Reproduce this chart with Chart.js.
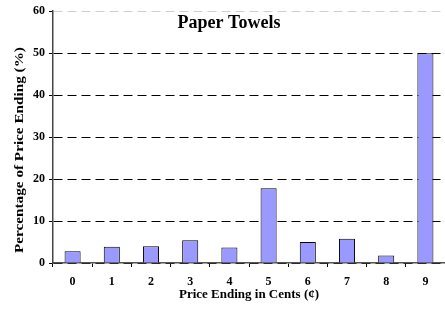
<!DOCTYPE html>
<html>
<head>
<meta charset="utf-8">
<script src="https://cdn.jsdelivr.net/npm/chart.js@4/dist/chart.umd.min.js"></script>
<style>
  html, body { margin: 0; padding: 0; background: #fff; }
  #wrap { width: 445px; height: 310px; }
</style>
</head>
<body>
<div id="wrap"><canvas id="towels" width="445" height="310"></canvas></div>
<script>
// price ending digits and share of prices (%)
var endings = ['0', '1', '2', '3', '4', '5', '6', '7', '8', '9'];
var shares = [2.8, 3.9, 4.0, 5.4, 3.7, 17.8, 5.0, 5.8, 1.8, 50.0];
var chartTitle = 'Paper Towels';
var yTitle = 'Percentage of Price Ending (%)';

var serif = "'Liberation Serif', 'Times New Roman', serif";

// title inside the plot area, and a slightly stretched y title like the original
var extraText = {
    id: 'extraText',
    afterDraw: function (chart) {
        var ctx = chart.ctx;
        ctx.save();
        ctx.fillStyle = '#000';
        ctx.textAlign = 'center';
        ctx.textBaseline = 'middle';
        ctx.font = 'bold 18px ' + serif;
        ctx.fillText(chartTitle, 229, 23);

        ctx.translate(20, 150);
        ctx.rotate(-Math.PI / 2);
        ctx.scale(1.17, 1);
        ctx.font = 'bold 13px ' + serif;
        ctx.fillText(yTitle, 0, 0);
        ctx.restore();
    }
};

var canvas = document.getElementById('towels');
var myChart = new Chart(canvas, {
    type: 'bar',
    data: {
        labels: endings,
        datasets: [{
            label: chartTitle,
            data: shares,
            backgroundColor: '#9999FF',
            borderColor: '#000',
            borderWidth: 1,
            categoryPercentage: 1,
            barPercentage: 0.41
        }]
    },
    options: {
        responsive: false,
        animation: false,
        layout: { padding: { top: 11, right: 0, left: 0, bottom: 8 } },
        plugins: {
            legend: { display: false },
            tooltip: { enabled: false }
        },
        scales: {
            x: {
                afterFit: function (scale) { scale.height = 39; },
                grid: {
                    drawOnChartArea: false,
                    drawTicks: true,
                    tickLength: 4,
                    tickColor: '#000',
                    offset: true
                },
                border: { display: true, color: '#555', width: 1.5 },
                ticks: {
                    color: '#000',
                    padding: 8,
                    font: { family: serif, size: 12, weight: 'bold' }
                },
                title: {
                    display: true,
                    text: 'Price Ending in Cents (¢)',
                    color: '#000',
                    padding: { top: 0, bottom: 0 },
                    font: { family: serif, size: 13, weight: 'bold' }
                }
            },
            y: {
                min: 0,
                max: 60,
                afterFit: function (scale) { scale.width = 53; },
                ticks: {
                    stepSize: 10,
                    color: '#000',
                    padding: 4,
                    font: { family: serif, size: 12, weight: 'bold' }
                },
                grid: {
                    color: function (c) { return c.tick && c.tick.value === 60 ? '#cfcfcf' : '#000'; },
                    tickColor: '#000',
                    tickLength: 4,
                    tickBorderDash: [0, 0],
                    lineWidth: 1
                },
                border: { display: true, color: '#444', width: 1.5, dash: [9, 5] }
            }
        }
    },
    plugins: [extraText]
});
</script>
</body>
</html>
